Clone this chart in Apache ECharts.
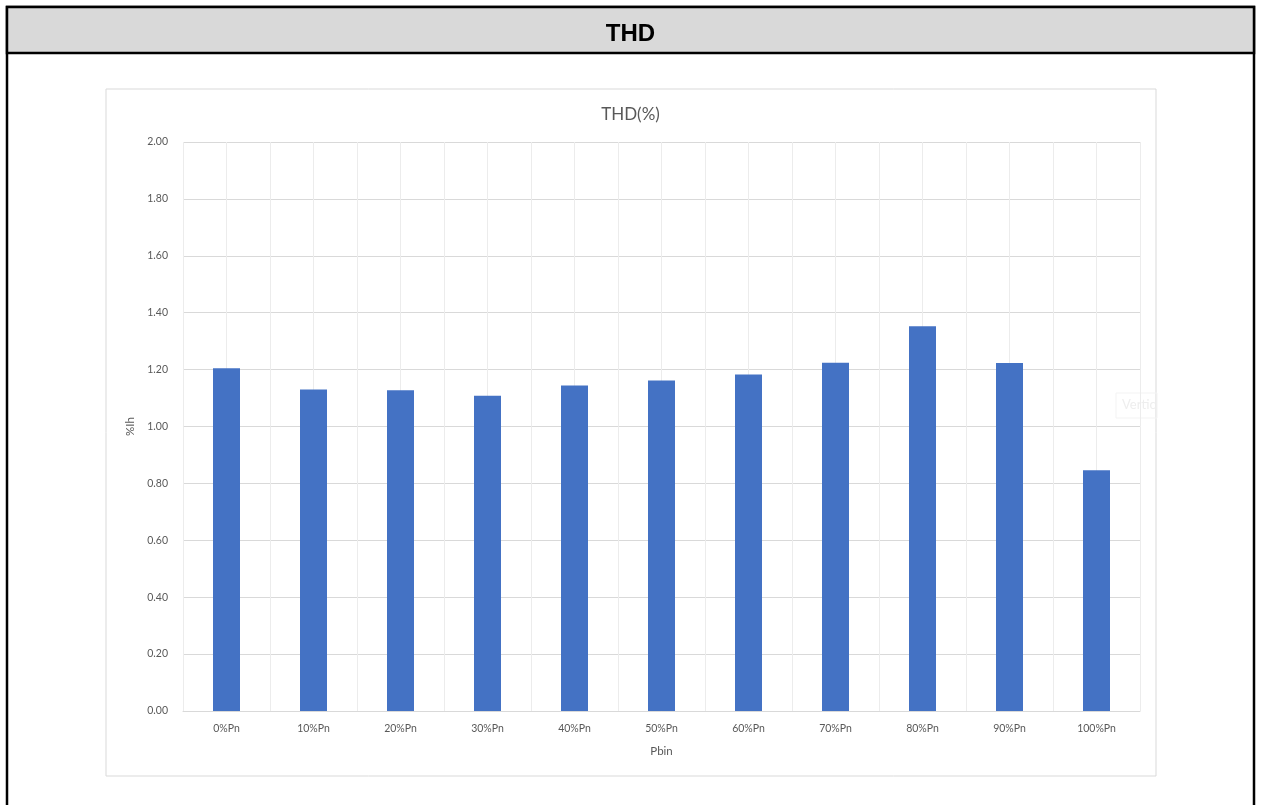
<!DOCTYPE html>
<html>
<head>
<meta charset="utf-8">
<title>THD</title>
<script src="https://cdn.jsdelivr.net/npm/echarts@6/dist/echarts.min.js"></script>
<style>
    html, body { margin: 0; padding: 0; background: #ffffff; }
    #THD { width: 1261px; height: 805px; }
</style>
</head>
<body>
<div id="THD"></div>
<script>
// 数据
var categoryList = ['0%Pn', '10%Pn', '20%Pn', '30%Pn', '40%Pn', '50%Pn',
    '60%Pn', '70%Pn', '80%Pn', '90%Pn', '100%Pn'];
var thdValues = [1.205, 1.13, 1.127, 1.108, 1.144, 1.162, 1.183, 1.224, 1.352, 1.223, 0.846];
var yTickMin = 0;
var yTickMax = 2;
var yTickStep = 0.2;

var labelFont = 'Lato, "Noto Sans", sans-serif';
var textGray = '#595959';

function BarChart(name, value) {
    var myChart = echarts.init(document.getElementById('THD'));
    var option = {
        animation: false,
        backgroundColor: '#ffffff',
        title: [{
            text: 'THD',
            left: 'center',
            top: 17,
            textStyle: { fontFamily: 'Arial, "Liberation Sans", sans-serif', fontSize: 24, fontWeight: 'bold', color: '#000000' }
        }, {
            text: 'THD(%)',
            left: 'center',
            top: 101,
            textStyle: { fontFamily: labelFont, fontSize: 17, fontWeight: 'normal', color: textGray }
        }],
        graphic: [
            // 外框
            {
                type: 'rect', z: -20, silent: true,
                shape: { x: 7, y: 7, width: 1247, height: 820 },
                style: { fill: '#ffffff', stroke: '#000000', lineWidth: 2.5 }
            },
            // 标题栏
            {
                type: 'rect', z: -19, silent: true,
                shape: { x: 7, y: 7, width: 1247, height: 46 },
                style: { fill: '#d9d9d9', stroke: '#000000', lineWidth: 2.5 }
            },
            // 图表区
            {
                type: 'rect', z: -18, silent: true,
                shape: { x: 106, y: 89, width: 1050, height: 687 },
                style: { fill: '#ffffff', stroke: '#d9d9d9', lineWidth: 1 }
            },
            {
                type: 'rect', z: -17, silent: true,
                shape: { x: 1116, y: 393, width: 41, height: 25 },
                style: { fill: 'rgba(255,255,255,0)', stroke: '#f3f3f3', lineWidth: 1 }
            },
            {
                type: 'text', z: -16, silent: true,
                x: 1122, y: 398,
                style: { text: 'Vertic', fill: '#eeeeee', font: '13px ' + labelFont }
            }
        ],
        grid: {
            left: 183,
            right: 121,
            top: 142,
            bottom: 94,
            containLabel: false
        },
        xAxis: [{
            type: 'category',
            data: name,
            name: 'Pbin',
            nameLocation: 'middle',
            nameGap: 34,
            nameTextStyle: { fontFamily: labelFont, fontSize: 11.5, color: textGray },
            axisLine: { show: true, lineStyle: { color: '#d9d9d9', width: 1 } },
            axisTick: { show: false },
            axisLabel: { fontFamily: labelFont, fontSize: 10.5, color: textGray, margin: 12 },
            splitLine: { show: false }
        }, {
            // 竖向网格线（每半个分类一条）
            type: 'value',
            min: 0,
            max: name.length * 2,
            interval: 1,
            position: 'bottom',
            show: true,
            axisLine: { show: false },
            axisTick: { show: false },
            axisLabel: { show: false },
            splitLine: { show: true, lineStyle: { color: '#ececec', width: 1 } }
        }],
        yAxis: {
            type: 'value',
            min: yTickMin,
            max: yTickMax,
            interval: yTickStep,
            name: '%Ih',
            nameLocation: 'middle',
            nameRotate: 90,
            nameGap: 42,
            nameTextStyle: { fontFamily: labelFont, fontSize: 11.5, color: textGray },
            axisLine: { show: false },
            axisTick: { show: false },
            axisLabel: {
                fontFamily: labelFont, fontSize: 10.5, color: textGray, margin: 15,
                formatter: function (v) { return v.toFixed(2); }
            },
            splitLine: { show: true, lineStyle: { color: '#d9d9d9', width: 1 } }
        },
        series: [{
            name: 'THD',
            type: 'bar',
            xAxisIndex: 0,
            data: value,
            barWidth: 27,
            itemStyle: { color: '#4472c4' },
            z: 5
        }]
    };
    myChart.setOption(option);
}

BarChart(categoryList, thdValues);
</script>
</body>
</html>
